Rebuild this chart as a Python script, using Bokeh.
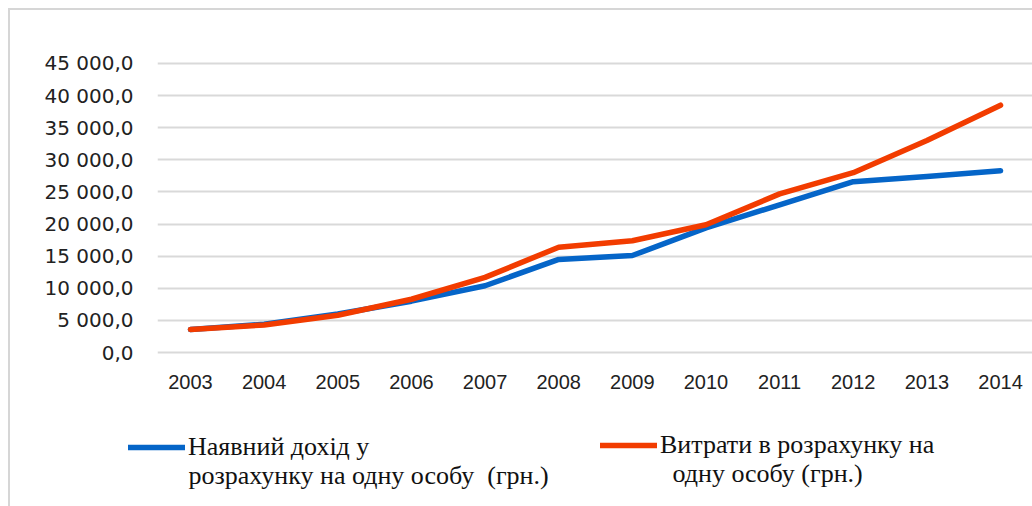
from bokeh.plotting import figure
from bokeh.layouts import column, row
from bokeh.models import (Range1d, FixedTicker, Legend, LegendItem, Label)
from bokeh.embed import file_html
from bokeh.resources import INLINE

# ---- data ----
years = [2003, 2004, 2005, 2006, 2007, 2008, 2009, 2010, 2011, 2012, 2013, 2014]
income = [3600, 4400, 6000, 8000, 10400, 14500, 15100, 19400, 23000, 26600, 27400, 28300]
expenses = [3600, 4300, 5800, 8300, 11700, 16400, 17400, 19900, 24700, 28000, 33000, 38500]
y_ticks = [0, 5000, 10000, 15000, 20000, 25000, 30000, 35000, 40000, 45000]
y_tick_labels = ["0,0", "5 000,0", "10 000,0", "15 000,0", "20 000,0",
                 "25 000,0", "30 000,0", "35 000,0", "40 000,0", "45 000,0"]
x_tick_labels = [str(y) for y in years]
income_label = ["Наявний дохід у", "розрахунку на одну особу\u00a0 (грн.)"]
expenses_label = ["Витрати в розрахунку на", "одну особу (грн.)"]

BLUE = "#0565C8"
RED = "#F23C00"
GRID = "#D9D9D9"

p = figure(width=1022, height=410, output_backend="svg", toolbar_location=None,
           x_range=Range1d(2002.552, 2014.434), y_range=Range1d(-300, 45300))
p.min_border = 0
p.min_border_left = 147
p.min_border_right = 0
p.min_border_top = 51
p.min_border_bottom = 66
p.outline_line_color = None
p.background_fill_color = "white"
p.border_fill_color = "white"

# grid
p.xgrid.visible = False
p.ygrid.ticker = FixedTicker(ticks=y_ticks)
p.ygrid.grid_line_color = GRID
p.ygrid.grid_line_width = 2

# axes
for ax in (p.xaxis[0], p.yaxis[0]):
    ax.axis_line_color = None
    ax.major_tick_line_color = None
    ax.minor_tick_line_color = None
    ax.major_tick_in = 0
    ax.major_tick_out = 0
    ax.major_label_text_color = "#222222"

p.yaxis.ticker = FixedTicker(ticks=y_ticks)
p.yaxis.major_label_overrides = {t: l for t, l in zip(y_ticks, y_tick_labels)}
p.yaxis.major_label_text_font = "DejaVu Sans"
p.yaxis.major_label_text_font_size = "20px"
p.yaxis.major_label_standoff = 24

p.xaxis.ticker = FixedTicker(ticks=years)
p.xaxis.major_label_overrides = {t: l for t, l in zip(years, x_tick_labels)}
p.xaxis.major_label_text_font = "Liberation Sans"
p.xaxis.major_label_text_font_size = "20px"
p.xaxis.major_label_standoff = 20

p.line(years, income, line_color=BLUE, line_width=5.5, line_join="round", line_cap="round")
p.line(years, expenses, line_color=RED, line_width=5.5, line_join="round", line_cap="round")

# ---- legend strip (separate figure; its own ranges keep the series out of view) ----
p2 = figure(width=1022, height=86, output_backend="svg", toolbar_location=None,
            x_range=Range1d(0, 1), y_range=Range1d(-2, -1))
p2.min_border = 0
p2.min_border_left = 0
p2.min_border_right = 0
p2.min_border_top = 0
p2.min_border_bottom = 0
p2.axis.visible = False
p2.grid.visible = False
p2.outline_line_color = None
p2.background_fill_color = "white"
p2.border_fill_color = "white"

l_inc = p2.line(years, income, line_color=BLUE, line_width=5.5, line_cap="round")
l_exp = p2.line(years, expenses, line_color=RED, line_width=5.5, line_cap="round")

def make_legend(label, renderer, loc):
    return Legend(items=[LegendItem(label=label, renderers=[renderer])],
                  location=loc, padding=0, margin=0, spacing=0,
                  border_line_color=None, background_fill_alpha=0,
                  glyph_width=57, glyph_height=20, label_standoff=3,
                  label_text_font="Liberation Serif", label_text_font_size="26px",
                  label_text_color="#111111")

p2.add_layout(make_legend(income_label[0], l_inc, (118, 44)))
p2.add_layout(make_legend(expenses_label[0], l_exp, (590, 46)))

for txt, x, y in ((income_label[1], 178, 31), (expenses_label[1], 662, 33)):
    p2.add_layout(Label(x=x, y=y, x_units="screen", y_units="screen", text=txt,
                        text_font="Liberation Serif", text_font_size="26px",
                        text_color="#111111", text_baseline="alphabetic"))

layout = column(p, row(p2), spacing=0,
                styles={"margin-top": "8px", "margin-left": "8px",
                        "border-top": "2px solid #D6D6D6",
                        "border-left": "2px solid #D6D6D6"})

open("out.html", "w").write(file_html(layout, INLINE))
